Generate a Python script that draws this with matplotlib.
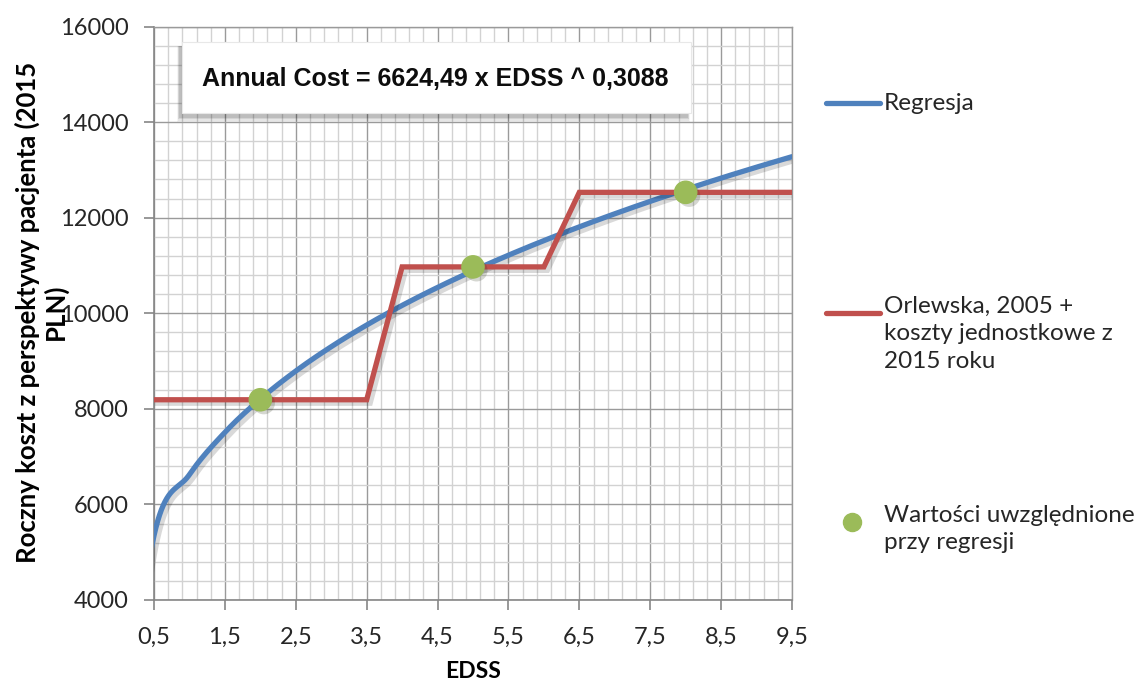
import numpy as np
import matplotlib
matplotlib.use("Agg")
import matplotlib.pyplot as plt
from matplotlib import patheffects as pe
from matplotlib.patches import Rectangle
from matplotlib.lines import Line2D

# ---- data -------------------------------------------------------------
coef_a = 6624.49          # Annual Cost = a * EDSS ^ b
coef_b = 0.3088
regression_edss = np.arange(0.0, 9.51, 0.5)

step_edss = [0.5, 3.5, 4.0, 6.0, 6.5, 9.5]
step_cost = [8190, 8190, 10970, 10970, 12530, 12530]

point_edss = [2, 5, 8]
point_cost = [8190, 10970, 12530]

x_ticks = [0.5, 1.5, 2.5, 3.5, 4.5, 5.5, 6.5, 7.5, 8.5, 9.5]
x_ticklabels = ["0,5", "1,5", "2,5", "3,5", "4,5", "5,5", "6,5", "7,5", "8,5", "9,5"]
y_ticks = [4000, 6000, 8000, 10000, 12000, 14000, 16000]

ylabel_lines = ["Roczny koszt z perspektywy pacjenta (2015", "PLN)"]
legend_labels = ["Regresja",
                 "Orlewska, 2005 +\nkoszty jednostkowe z\n2015 roku",
                 "Wartości uwzględnione\nprzy regresji"]
equation_text = "Annual Cost = 6624,49 x EDSS ^ 0,3088"

BLUE = "#4F81BD"
RED = "#C0504D"
GREEN = "#9BBB59"
MAJOR_GRID = "#9a9a9a"
MINOR_GRID = "#d2d2d2"
SANS = ["Lato", "DejaVu Sans"]


def smooth_curve(x, y, n=40):
    """Catmull-Rom style Bezier smoothing through the given points."""
    pts = np.column_stack([x, y]).astype(float)
    out = []
    for i in range(len(pts) - 1):
        p0 = pts[max(i - 1, 0)]
        p1 = pts[i]
        p2 = pts[i + 1]
        p3 = pts[min(i + 2, len(pts) - 1)]
        b1 = p1 + (p2 - p0) / 6.0
        b2 = p2 - (p3 - p1) / 6.0
        t = np.linspace(0, 1, n)[:, None]
        seg = ((1 - t) ** 3) * p1 + 3 * ((1 - t) ** 2) * t * b1 \
            + 3 * (1 - t) * t ** 2 * b2 + t ** 3 * p2
        out.append(seg if i == 0 else seg[1:])
    c = np.vstack(out)
    return c[:, 0], c[:, 1]


regression_cost = coef_a * regression_edss ** coef_b
curve_x, curve_y = smooth_curve(regression_edss, regression_cost)

# ---- figure -----------------------------------------------------------
W, H = 1140, 684
fig = plt.figure(figsize=(W / 100, H / 100), dpi=100)
ax = fig.add_axes([154 / W, 1 - 600 / H, (792 - 154) / W, (600 - 26.5) / H])

ax.set_xlim(0.5, 9.5)
ax.set_ylim(4000, 16000)
ax.set_xticks(x_ticks)
ax.set_xticklabels(x_ticklabels)
ax.set_xticks(np.arange(0.5, 9.51, 0.2), minor=True)
ax.set_yticks(y_ticks)
ax.set_yticks(np.arange(4000, 16001, 400), minor=True)

ax.grid(which="minor", color=MINOR_GRID, linewidth=1.0, zorder=0)
ax.grid(which="major", color=MAJOR_GRID, linewidth=1.0, zorder=0)
ax.set_axisbelow(True)

for side in ["left", "bottom"]:
    ax.spines[side].set_color("#868686")
    ax.spines[side].set_linewidth(1.2)
for side in ["top", "right"]:
    ax.spines[side].set_color(MAJOR_GRID)
    ax.spines[side].set_linewidth(1.0)

ax.tick_params(which="major", direction="out", length=7, width=1.2,
               color="#868686", labelsize=17, labelcolor="#262626")
ax.tick_params(axis="x", which="major", pad=12)
ax.tick_params(axis="y", which="major", pad=11.5)
ax.tick_params(which="minor", length=0)
for lab in ax.get_xticklabels() + ax.get_yticklabels():
    lab.set_fontfamily(SANS)

shadow = [pe.SimpleLineShadow(offset=(2.5, -2.5), shadow_color="#000000",
                              alpha=0.15), pe.Normal()]

ax.plot(curve_x, curve_y, color=BLUE, linewidth=3.8, solid_capstyle="round",
        path_effects=shadow, zorder=3)
ax.plot(step_edss, step_cost, color=RED, linewidth=3.8, solid_joinstyle="miter",
        path_effects=shadow, zorder=4)
ax.plot(point_edss, point_cost, linestyle="none", marker="o", markersize=16,
        markerfacecolor=GREEN, markeredgecolor=GREEN,
        path_effects=[pe.SimplePatchShadow(offset=(2.5, -2.5), alpha=0.2),
                      pe.Normal()], zorder=5)

ax.set_xlabel("EDSS", fontsize=16.5, fontweight="bold", family=SANS, labelpad=10)

# two-line y-axis title, the second line sits over the tick labels
fig.text(27 / W, 1 - 312 / H, ylabel_lines[0], rotation=90, ha="center",
         va="center", fontsize=18.5, fontweight="bold", family=SANS)
fig.text(55 / W, 1 - 312 / H, ylabel_lines[1], rotation=90, ha="center",
         va="center", fontsize=18.5, fontweight="bold", family=SANS)

# equation box with soft shadow underneath
overlay = fig.add_axes([0, 0, 1, 1], facecolor="none")
overlay.set_xlim(0, W)
overlay.set_ylim(H, 0)
overlay.axis("off")

box_x0, box_y0, box_x1, box_y1 = 182, 42, 691, 113
for grow, a in [(5, 0.04), (3.5, 0.06), (2, 0.08), (0.5, 0.1)]:
    overlay.add_patch(Rectangle((box_x0 - 3 - grow * 0.4, box_y0 + 4),
                                box_x1 - box_x0 + grow * 0.8, box_y1 - box_y0 + grow,
                                facecolor="black", edgecolor="none", alpha=a))
overlay.add_patch(Rectangle((box_x0, box_y0), box_x1 - box_x0, box_y1 - box_y0,
                            facecolor="white", edgecolor="#e8e8e8", linewidth=0.8))
overlay.text((box_x0 + box_x1) / 2 - 1, (box_y0 + box_y1) / 2 + 1, equation_text,
             ha="center", va="center", fontsize=18, fontweight="bold",
             family=["Liberation Sans", "DejaVu Sans"], color="#0d0d0d")

# legend entries
leg_fs = 17.5
overlay.add_line(Line2D([826, 880], [103, 103], color=BLUE, linewidth=3.8,
                        solid_capstyle="round"))
overlay.text(884, 103, legend_labels[0], ha="left", va="center",
             fontsize=leg_fs, family=SANS, color="#262626")
overlay.add_line(Line2D([826, 880], [313, 313], color=RED, linewidth=3.8,
                        solid_capstyle="round"))
overlay.text(884, 296, legend_labels[1], ha="left", va="top",
             fontsize=leg_fs, family=SANS, color="#262626", linespacing=1.38)
overlay.plot([852], [522], marker="o", markersize=13, color=GREEN, linestyle="none")
overlay.text(884, 505, legend_labels[2], ha="left", va="top",
             fontsize=leg_fs, family=SANS, color="#262626", linespacing=1.38)

fig.savefig("out.png", dpi=100, facecolor="white")
